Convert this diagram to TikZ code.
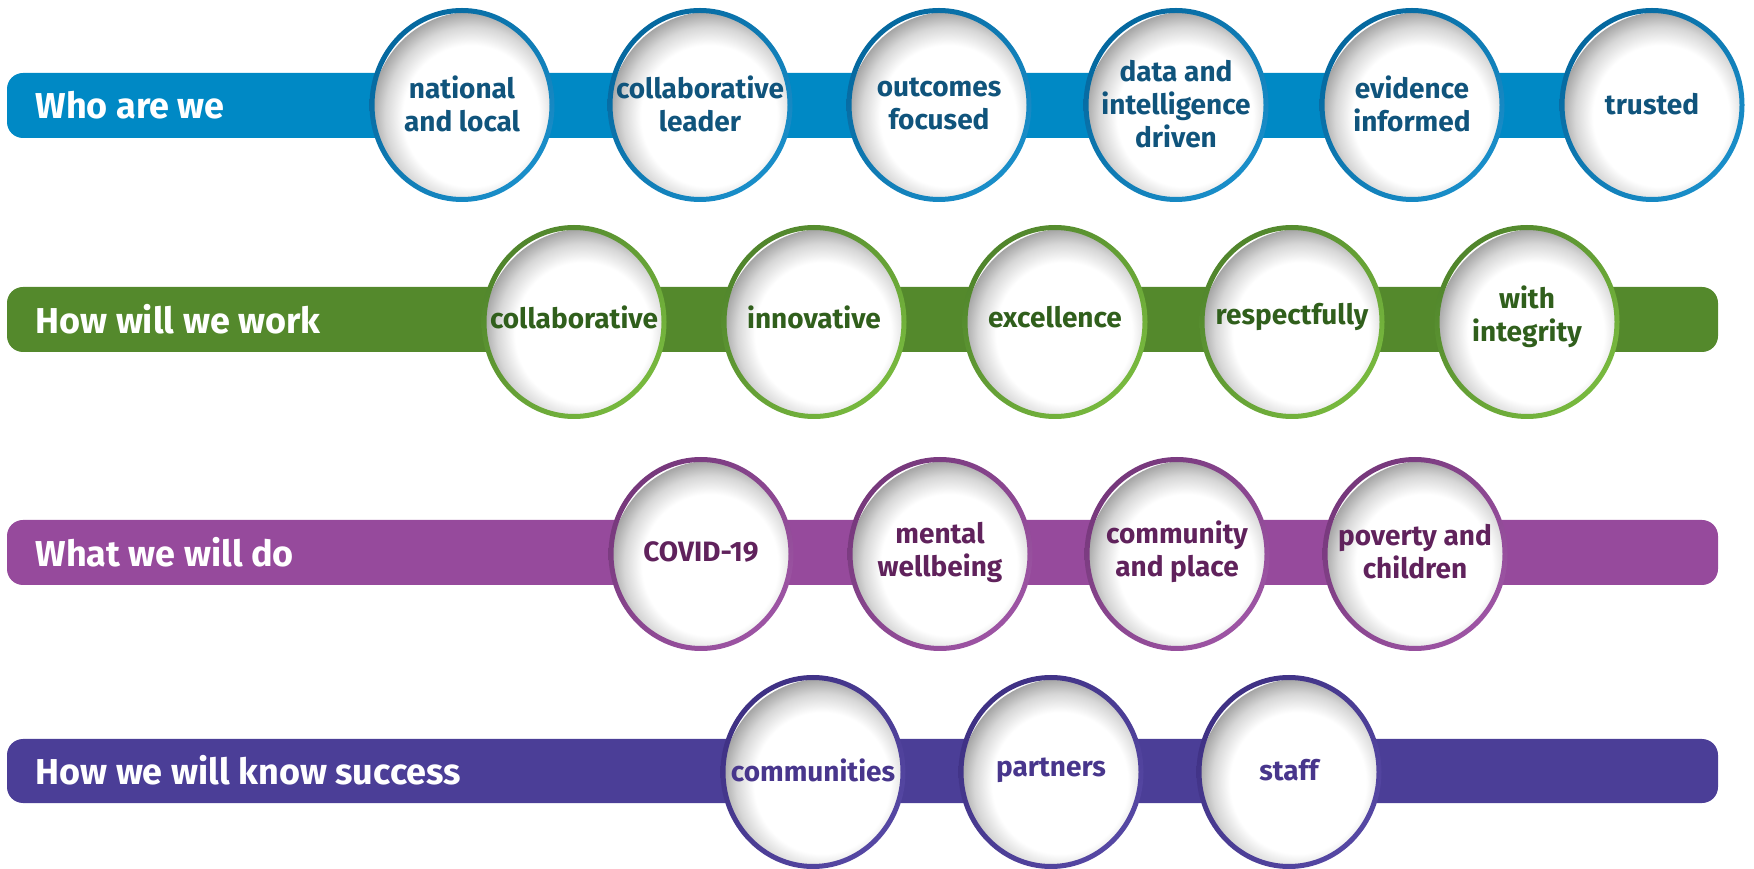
\documentclass[tikz,border=0pt]{standalone}
\usepackage{fontspec}
\setmainfont{Fira Sans}
\usetikzlibrary{shapes.geometric,shadings}

\definecolor{whoBar}{RGB}{0,137,197}
\definecolor{whoDark}{RGB}{0,96,150}
\definecolor{whoLight}{RGB}{30,150,210}
\definecolor{whoText}{RGB}{16,84,124}
\definecolor{workBar}{RGB}{84,137,44}
\definecolor{workDark}{RGB}{72,122,40}
\definecolor{workLight}{RGB}{128,196,66}
\definecolor{workText}{RGB}{48,95,28}
\definecolor{doBar}{RGB}{150,74,156}
\definecolor{doDark}{RGB}{110,50,115}
\definecolor{doLight}{RGB}{165,90,172}
\definecolor{doText}{RGB}{96,34,92}
\definecolor{knowBar}{RGB}{75,62,151}
\definecolor{knowDark}{RGB}{58,44,125}
\definecolor{knowLight}{RGB}{90,76,170}
\definecolor{knowText}{RGB}{72,54,140}
\definecolor{rimShadow}{RGB}{165,165,165}

% white bubble with a soft shadow on the upper left inside
\pgfdeclareradialshading{bubbleshade}{\pgfpoint{0bp}{0bp}}{color(0bp)=(white); color(17bp)=(white); color(21.5bp)=(rimShadow!45!white); color(25bp)=(rimShadow); color(50bp)=(rimShadow)}

\tikzset{
  bar/.style={fill=#1, rounded corners=16pt},
  title/.style={anchor=west, text=white, font=\bfseries\fontsize{36}{42}\selectfont},
  label/.style={align=center, inner sep=0pt, text=#1,
    font=\bfseries\fontsize{28}{33}\selectfont},
  rim/.style 2 args={even odd rule, upper left=#1, lower right=#2,
    upper right=#1!50!#2, lower left=#1!50!#2},
}
% one bubble: white inside, shadow, coloured rim
\newcommand{\bubbleat}[3]{%
  \fill[white] #1 ellipse[x radius=90, y radius=94.5];
  \begin{scope}
    \clip #1 ellipse[x radius=90, y radius=94.5];
    \shade[shading=bubbleshade] #1 ++(9,-11) ellipse[x radius=100, y radius=104];
  \end{scope}
  \shade[rim={#2}{#3}] #1 ellipse[x radius=92.5, y radius=97]
    #1 ellipse[x radius=87.5, y radius=92];
}

\begin{document}
\begin{tikzpicture}[x=1pt, y=1pt]
  \useasboundingbox (0,0) rectangle (1754,868);
  % Who are we
  \fill[bar=whoBar] (7,730) rectangle (1652,795);
  \node[title] (who) at (32,763) {Who are we};
  \foreach \x/\txt [count=\i] in {462/national\\and local, 700/collaborative\\leader,
      939/outcomes\\focused, 1176/data and\\intelligence\\driven,
      1412/evidence\\informed, 1652/trusted}{
    \bubbleat{(\x,763)}{whoDark}{whoLight}
    \node[label=whoText] (who-\i) at (\x,764) {\txt};
  }
  % How will we work
  \fill[bar=workBar] (7,516) rectangle (1718,581);
  \node[title] (work) at (32,549) {How will we work};
  \foreach \x/\txt [count=\i] in {574/collaborative, 814/innovative, 1055/excellence,
      1292/respectfully, 1527/with\\integrity}{
    \bubbleat{(\x,546)}{workDark}{workLight}
    \node[label=workText] (work-\i) at (\x,551) {\txt};
  }
  % What we will do
  \fill[bar=doBar] (7,283) rectangle (1718,348);
  \node[title] (do) at (32,316) {What we will do};
  \foreach \x/\txt [count=\i] in {701/COVID-19, 940/mental\\wellbeing,
      1177/community\\and place, 1415/poverty and\\children}{
    \bubbleat{(\x,314)}{doDark}{doLight}
    \node[label=doText] (do-\i) at (\x,316) {\txt};
  }
  % How we will know success
  \fill[bar=knowBar] (7,65) rectangle (1718,129);
  \node[title] (know) at (32,98) {How we will know success};
  \foreach \x/\txt [count=\i] in {813/communities, 1051/partners, 1289/staff}{
    \bubbleat{(\x,96)}{knowDark}{knowLight}
    \node[label=knowText] (know-\i) at (\x,98) {\txt};
  }
\end{tikzpicture}
\end{document}
